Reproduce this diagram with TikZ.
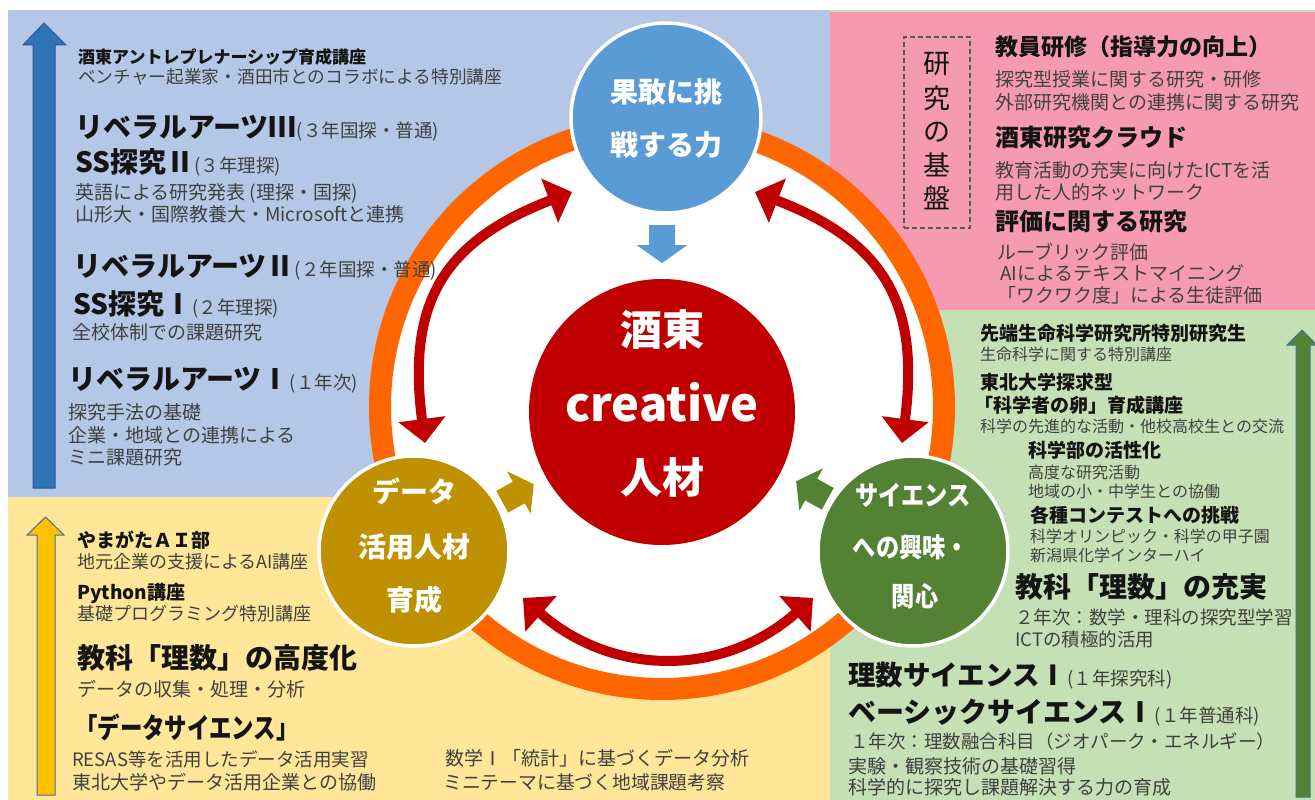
\documentclass[tikz,border=0pt]{standalone}
\usepackage{fontspec}
\usepackage{graphicx}
\setmainfont{Noto Sans CJK JP}
\usetikzlibrary{arrows.meta}
\definecolor{pblue}{HTML}{B4C7E7}
\definecolor{pyel}{HTML}{FFE699}
\definecolor{ppink}{HTML}{F59AB1}
\definecolor{pgreen}{HTML}{C5E0B4}
\definecolor{cblue}{HTML}{5B9BD5}
\definecolor{cred}{HTML}{C00000}
\definecolor{cgold}{HTML}{BF9000}
\definecolor{cgreen}{HTML}{548235}
\definecolor{corange}{HTML}{FF6600}
\definecolor{txtg}{HTML}{404040}
\definecolor{txtk}{HTML}{141414}
\definecolor{abl}{HTML}{2E75B6}
\definecolor{abledge}{HTML}{2F5597}
\definecolor{ayel}{HTML}{FFC000}
\definecolor{aedge}{HTML}{41719C}
\definecolor{boxg}{HTML}{595959}
\newcommand\annot[1]{{\mdseries\fontsize{18.5}{19}\selectfont\color{txtg}#1}}
\tikzset{
  hdl/.style={inner sep=0pt, anchor=west, text=txtk, font=\bfseries\fontsize{#1}{#1}\selectfont},
  sml/.style={inner sep=0pt, anchor=west, text=txtg, font=\fontsize{#1}{#1}\selectfont},
  ctext/.style={inner sep=0pt, text=white, font=\bfseries\fontsize{#1}{#1}\selectfont},
  bub/.style={circle, minimum size=190pt, draw=white, line width=3.5pt, inner sep=0pt},
  redarc/.style={draw=cred, line width=10pt, {Triangle[length=24pt,width=46pt]}-{Triangle[length=24pt,width=46pt]}},
  blockarr/.pic={\fill[pic actions] (-19,-13) -- (1,-13) -- (1,-25.5) -- (19,0) -- (1,25.5) -- (1,13) -- (-19,13) -- cycle;}
}
\begin{document}
\begin{tikzpicture}[x=1pt,y=-1pt]
\useasboundingbox (0,0) rectangle (1315,800);
\clip (0,0) rectangle (1315,800);
\fill[white] (0,0) rectangle (1315,800);
% panels
\fill[pblue] (8,10) rectangle (829.5,497);
\fill[pyel] (8,497) rectangle (829.5,800);
\fill[pgreen] (829.5,10) rectangle (1315,800);
\fill[ppink] (829.5,12) rectangle (1315,310);

% ring
\draw[corange, line width=22pt, fill=white] (662,407) circle[radius=282];

% centre and satellites
\node[circle, fill=cred, minimum size=266pt, inner sep=0pt] (core) at (662,412) {};
\node[bub, fill=cblue] (top) at (666,118) {};
\node[bub, fill=cgold] (data) at (414,551) {};
\node[bub, fill=cgreen] (sci) at (913,551) {};

% red double arrows
\coordinate (lt) at (572,192);
\coordinate (lb) at (425,443);
\coordinate (rt) at (755,192);
\coordinate (rb) at (902,443);
\coordinate (bl) at (523,598);
\coordinate (br) at (813,598);
\draw[redarc] (lt) .. controls (442,242) and (407,304) .. (lb);
\draw[redarc] (rt) .. controls (885,242) and (920,304) .. (rb);
\draw[redarc] (bl) .. controls (613,677) and (723,677) .. (br);

% block arrows toward centre
\pic[fill=cblue] at (662,244) [rotate=-90] {blockarr};
\pic[fill=cgold] at (518,493) [rotate=29, scale=0.95] {blockarr};
\pic[fill=cgreen] at (812,490) [rotate=151, scale=0.95] {blockarr};

% circle texts
\node[ctext=28] (t1) at (666,92) {果敢に挑};
\node[ctext=28] (t2) at (666,145) {戦する力};
\node[ctext=42] (c1) at (662,330) {酒東};
\node[ctext=47] (c2) at (662,402) {creative};
\node[ctext=42] (c3) at (662,478) {人材};
\node[ctext=28] (d1) at (414,491) {データ};
\node[ctext=28] (d2) at (414,547) {活用人材};
\node[ctext=28] (d3) at (414,600) {育成};
\node[ctext=27] (s1) at (913,495) {\scalebox{0.86}[1]{サイエンス}};
\node[ctext=27] (s2) at (911,547) {\scalebox{0.86}[1]{への興味・}};
\node[ctext=27] (s3) at (915,596) {\scalebox{0.86}[1]{関心}};

% left vertical arrows
\filldraw[fill=abl, draw=abledge, line width=1pt] (33,488) -- (33,45) -- (23,45) -- (44,23) -- (66,45) -- (55,45) -- (55,488) -- cycle;
\filldraw[fill=ayel, draw=aedge, line width=1pt] (37,795) -- (37,535) -- (27,535) -- (45.5,517) -- (64,535) -- (55,535) -- (55,795) -- cycle;

% blue panel text
\node[hdl=17] (b1) at (78,57) {酒東アントレプレナーシップ育成講座};
\node[sml=17.7] (b2) at (78,77) {ベンチャー起業家・酒田市とのコラボによる特別講座};
\node[hdl=28] (b3) at (75,128) {リベラルアーツⅢ\annot{(３年国探・普通)}};
\node[hdl=28] (b4) at (75,162) {SS探究Ⅱ\annot{(３年理探)}};
\node[sml=19] (b5) at (75,193) {英語による研究発表 (理探・国探)};
\node[sml=19] (b6) at (75,214) {山形大・国際教養大・Microsoftと連携};
\node[hdl=28] (b7) at (73,267) {リベラルアーツⅡ\annot{(２年国探・普通)}};
\node[hdl=28] (b8) at (73,304) {SS探究Ⅰ\annot{(２年理探)}};
\node[sml=19] (b9) at (72,332) {全校体制での課題研究};
\node[hdl=28] (b10) at (68,380) {リベラルアーツⅠ\annot{(１年次)}};
\node[sml=19] (b11) at (68,412) {探究手法の基礎};
\node[sml=19] (b12) at (68,435) {企業・地域との連携による};
\node[sml=19] (b13) at (68,457) {ミニ課題研究};

% yellow panel text
\node[hdl=19] (y1) at (77,540) {やまがたＡＩ部};
\node[sml=18] (y2) at (77,562) {地元企業の支援によるAI講座};
\node[hdl=19] (y3) at (77,593) {Python講座};
\node[sml=18] (y4) at (77,614) {基礎プログラミング特別講座};
\node[hdl=28] (y5) at (77,658) {教科「理数」の高度化};
\node[sml=19] (y6) at (77,689) {データの収集・処理・分析};
\node[hdl=28] (y7) at (75,728) {\scalebox{0.8}[1]{「データサイエンス」}};
\node[sml=18.5] (y8) at (72,759) {RESAS等を活用したデータ活用実習};
\node[sml=19] (y9) at (72,782) {東北大学やデータ活用企業との協働};
\node[sml=19] (y10) at (445,758) {数学Ⅰ「統計」に基づくデータ分析};
\node[sml=18.8] (y11) at (443,782) {ミニテーマに基づく地域課題考察};

% pink panel
\node[draw=boxg, dash pattern=on 5pt off 3pt, line width=1.6pt, minimum width=66pt, minimum height=191pt, inner sep=0pt] (base) at (937,132.5) {};
\node[sml=27, anchor=center, text=txtk] (v1) at (937,64) {研};
\node[sml=27, anchor=center, text=txtk] (v2) at (937,98) {究};
\node[sml=27, anchor=center, text=txtk] (v3) at (937,132) {の};
\node[sml=27, anchor=center, text=txtk] (v4) at (937,165) {基};
\node[sml=27, anchor=center, text=txtk] (v5) at (937,198) {盤};
\node[hdl=23] (p1) at (995,47) {教員研修（指導力の向上）};
\node[sml=19] (p2) at (995,79) {探究型授業に関する研究・研修};
\node[sml=19] (p3) at (995,102) {外部研究機関との連携に関する研究};
\node[hdl=24] (p4) at (995,137) {酒東研究クラウド};
\node[sml=19] (p5) at (995,170) {教育活動の充実に向けたICTを活};
\node[sml=19] (p6) at (995,192) {用した人的ネットワーク};
\node[hdl=24] (p7) at (995,221) {評価に関する研究};
\node[sml=19] (p8) at (997,252) {ルーブリック評価};
\node[sml=19] (p9) at (1000,273) {AIによるテキストマイニング};
\node[sml=19] (p10) at (997,295) {「ワクワク度」による生徒評価};

% green panel
\node[hdl=19] (g1) at (980,333) {先端生命科学研究所特別研究生};
\node[sml=16] (g2) at (980,354) {生命科学に関する特別講座};
\node[hdl=19] (g3) at (980,382) {東北大学探求型};
\node[hdl=19] (g4) at (974,405) {「科学者の卵」育成講座};
\node[sml=16] (g5) at (980,426) {科学の先進的な活動・他校高校生との交流};
\node[hdl=19] (g6) at (1028,450) {科学部の活性化};
\node[sml=16] (g7) at (1028,472) {高度な研究活動};
\node[sml=16] (g8) at (1028,491) {地域の小・中学生との協働};
\node[hdl=19] (g9) at (1030,515) {各種コンテストへの挑戦};
\node[sml=16] (g10) at (1030,536) {科学オリンピック・科学の甲子園};
\node[sml=16] (g11) at (1030,555) {新潟県化学インターハイ};
\node[hdl=28] (g12) at (1015,587) {教科「理数」の充実};
\node[sml=18.5] (g13) at (1015,617) {２年次：数学・理科の探究型学習};
\node[sml=18.5] (g14) at (1015,639) {ICTの積極的活用};
\node[hdl=27.5] (g15) at (848,676) {理数サイエンスⅠ\annot{(１年探究科)}};
\node[hdl=28] (g16) at (848,713) {ベーシックサイエンスⅠ\annot{(１年普通科)}};
\node[sml=18.5] (g17) at (850,741) {１年次：理数融合科目（ジオパーク・エネルギー）};
\node[sml=19] (g18) at (848,766) {実験・観察技術の基礎習得};
\node[sml=19] (g19) at (848,787) {科学的に探究し課題解決する力の育成};

% right vertical arrow
\filldraw[fill=cgreen, draw=aedge, line width=1pt] (1296,797) -- (1296,345) -- (1287,345) -- (1302,330) -- (1317,345) -- (1310,345) -- (1310,797) -- cycle;
\end{tikzpicture}
\end{document}
